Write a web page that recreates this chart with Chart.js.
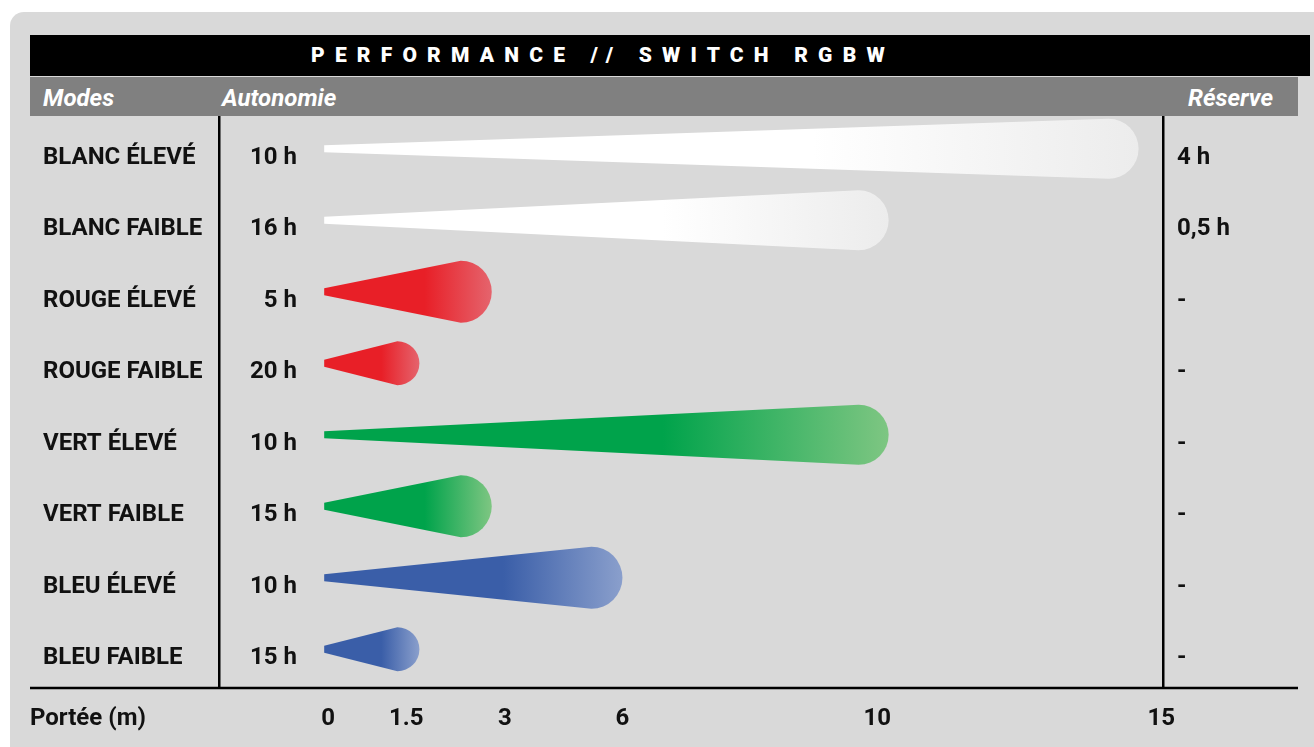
<!DOCTYPE html>
<html lang="fr">
<head>
<meta charset="utf-8">
<title>Performance // Switch RGBW</title>
<script src="https://cdn.jsdelivr.net/npm/chart.js@4.4.1/dist/chart.umd.min.js"></script>
<style>
  body { margin:0; width:1314px; height:747px; background:#fff; position:relative; overflow:hidden; font-family: Roboto, "Noto Sans", sans-serif; }
  .panel { position:absolute; left:10px; top:12px; width:1304px; height:735px; background:#d9d9d9; border-top-left-radius:14px; }
  .titlebar { position:absolute; left:30px; top:35px; width:1280px; height:41px; background:#000; }
  .titlebar span { position:absolute; left:281px; top:0; line-height:41px; color:#fff; font-weight:900; font-size:21px; letter-spacing:10.2px; white-space:nowrap; }
  .head { position:absolute; left:30px; top:77px; width:1268px; height:39px; background:#808080; color:#fff; font-style:italic; font-weight:700; font-size:24px; line-height:42px; }
  .head span { position:absolute; top:0; white-space:nowrap; }
  #chart { position:absolute; left:0; top:116px; }
  .porte { position:absolute; left:30px; top:702px; font-weight:700; font-size:24px; line-height:30px; color:#111; }
</style>
</head>
<body>
<div class="panel"></div>
<div class="titlebar"><span>PERFORMANCE // SWITCH RGBW</span></div>
<div class="head">
  <span style="left:13px">Modes</span>
  <span style="left:192px">Autonomie</span>
  <span style="right:25px">Réserve</span>
</div>
<canvas id="chart" width="1314" height="631"></canvas>
<div class="porte">Portée (m)</div>
<script>
const modes = ["BLANC ÉLEVÉ", "BLANC FAIBLE", "ROUGE ÉLEVÉ", "ROUGE FAIBLE", "VERT ÉLEVÉ", "VERT FAIBLE", "BLEU ÉLEVÉ", "BLEU FAIBLE"];
const autonomie = ["10 h", "16 h", "5 h", "20 h", "10 h", "15 h", "10 h", "15 h"];
const reserve = ["4 h", "0,5 h", "-", "-", "-", "-", "-", "-"];
const portee = [14.6, 10.2, 2.8, 1.7, 10.2, 2.8, 6, 1.7];   // beam reach, m
const rangeTicks = [0, 1.5, 3, 6, 10, 15];

// look of the beams, per row
const beamColors = [
  ["#ffffff", "#ececec"], ["#ffffff", "#ececec"],
  ["#e81f27", "#e5646d"], ["#e81f27", "#e5646d"],
  ["#00a34b", "#7ec682"], ["#00a34b", "#7ec682"],
  ["#3a5ea8", "#8a9fcc"], ["#3a5ea8", "#8a9fcc"]
];
const beamRadius = [30, 30, 31, 22, 30, 31, 31, 22];
const beamShift = -3;
// where each range tick sits across the plot width (the axis is not linear)
const tickFractions = [0.027, 0.118, 0.233, 0.370, 0.667, 0.998];

function interp(v, xs, ys) {
  let i = 1;
  while (i < xs.length - 1 && v > xs[i]) i++;
  const t = (v - xs[i - 1]) / (xs[i] - xs[i - 1]);
  return ys[i - 1] + t * (ys[i] - ys[i - 1]);
}

class PiecewiseScale extends Chart.LinearScale {
  buildTicks() { return rangeTicks.map(v => ({ value: v })); }
  getPixelForValue(v) { return this.left + interp(v, rangeTicks, tickFractions) * this.width; }
  getValueForPixel(p) { return interp((p - this.left) / this.width, tickFractions, rangeTicks); }
}
PiecewiseScale.id = "piecewise";
PiecewiseScale.defaults = Chart.LinearScale.defaults;
Chart.register(PiecewiseScale);

const beamPlugin = {
  id: "beams",
  afterDatasetsDraw(chart) {
    const { ctx } = chart;
    chart.getDatasetMeta(0).data.forEach((bar, i) => {
      const y = bar.y + beamShift, x0 = bar.base - 4, x1 = bar.x;
      const r = beamRadius[i], cx = x1 - r;
      const g = ctx.createLinearGradient(x0, 0, x1, 0);
      g.addColorStop(0, beamColors[i][0]);
      g.addColorStop(0.6, beamColors[i][0]);
      g.addColorStop(1, beamColors[i][1]);
      ctx.save();
      ctx.beginPath();
      ctx.moveTo(x0, y - 3.5);
      ctx.lineTo(cx, y - r);
      ctx.arc(cx, y, r, -Math.PI / 2, Math.PI / 2);
      ctx.lineTo(x0, y + 3.5);
      ctx.closePath();
      ctx.fillStyle = g;
      ctx.fill();
      ctx.restore();
    });
  }
};

const framePlugin = {
  id: "frame",
  afterDraw(chart) {
    const { ctx } = chart;
    const y = chart.scales.x.top;
    ctx.save();
    ctx.strokeStyle = "#000"; ctx.lineWidth = 2.5;
    ctx.beginPath(); ctx.moveTo(30, y); ctx.lineTo(1298, y); ctx.stroke();
    ctx.restore();
  }
};

Chart.defaults.font.family = "Roboto, 'Noto Sans', sans-serif";
Chart.defaults.color = "#111";
const labelFont = { size: 24, weight: "bold" };
const noGrid = { display: true, color: "transparent", drawTicks: false };
const fixWidth = w => s => { s.width = w; s.paddingTop = 0; s.paddingBottom = 0; };

new Chart(document.getElementById("chart"), {
  type: "bar",
  data: {
    labels: modes,
    datasets: [{ data: portee.map(v => [0, v]), backgroundColor: "transparent", yAxisID: "y" }]
  },
  options: {
    responsive: false,
    animation: false,
    indexAxis: "y",
    layout: { padding: { left: 43, right: 0, top: 0, bottom: 0 } },
    plugins: { legend: { display: false }, tooltip: { enabled: false } },
    scales: {
      x: {
        type: "piecewise", position: "bottom", min: 0, max: 15,
        grid: { display: false, drawTicks: false }, border: { display: false },
        ticks: { font: labelFont, padding: 17, autoSkip: false, maxRotation: 0, callback: v => String(v) },
        afterFit: s => { s.height = 59; s.paddingLeft = 0; s.paddingRight = 0; }
      },
      y: {
        type: "category", position: "left", weight: 2, offset: true,
        grid: noGrid, border: { display: true, color: "#000", width: 2.5 },
        ticks: { font: labelFont, crossAlign: "far", padding: 0, labelOffset: 6 },
        afterFit: fixWidth(176)
      },
      yAuto: {
        type: "category", position: "left", weight: 1, offset: true, labels: autonomie,
        grid: noGrid, border: { display: false },
        ticks: { font: labelFont, crossAlign: "near", padding: 8, labelOffset: 6 },
        afterFit: fixWidth(86)
      },
      yRes: {
        type: "category", position: "right", offset: true, labels: reserve,
        grid: noGrid, border: { display: true, color: "#000", width: 2.5 },
        ticks: { font: labelFont, crossAlign: "near", padding: 14, labelOffset: 6 },
        afterFit: fixWidth(151)
      }
    }
  },
  plugins: [beamPlugin, framePlugin]
});
</script>
</body>
</html>
